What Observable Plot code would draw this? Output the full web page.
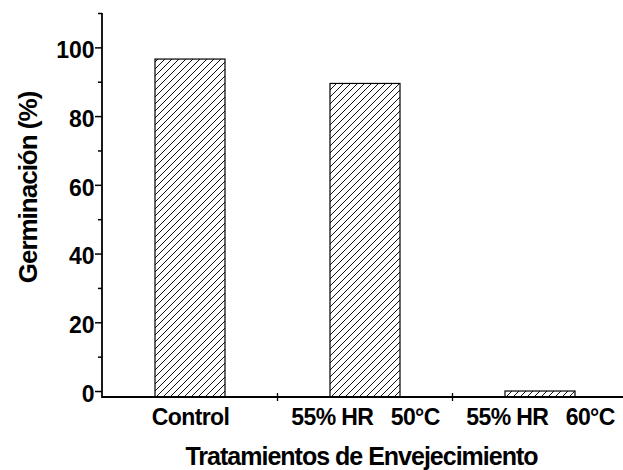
<!DOCTYPE html>
<html><head><meta charset="utf-8">
<script src="https://cdn.jsdelivr.net/npm/d3@7"></script>
<script src="https://cdn.jsdelivr.net/npm/@observablehq/plot@0.6"></script>
<style>
html,body{margin:0;padding:0;background:#fff;overflow:hidden}
svg{display:block}
</style></head><body><div id="chart"></div>
<script>
// ---- data ----
const categories = ["Control", "55% HR 50°C", "55% HR 60°C"];
const tickLabels = ["Control", "55%\u00a0HR\u00a0\u00a0\u00a050°C", "55%\u00a0HR\u00a0\u00a0\u00a060°C"];
const germination = [96.6, 89.5, 0];
const majorTicks = [0, 20, 40, 60, 80, 100];
const minorTicks = [10, 30, 50, 70, 90, 110];
const yAxisMin = -1.74, yAxisMax = 110;
const xTitle = "Tratamientos de Envejecimiento";
const yTitle = "Germinación (%)";

const data = categories.map((c, i) => ({category: c, value: germination[i]}));
const font = "Arial, 'Liberation Sans', sans-serif";

const hatchDefs = () => {
  const defs = d3.create("svg:defs");
  const p = defs.append("pattern").attr("id", "hatch")
    .attr("patternUnits", "userSpaceOnUse").attr("width", 7).attr("height", 7);
  p.append("rect").attr("width", 7).attr("height", 7).attr("fill", "white");
  p.append("path").attr("d", "M-1,1 L1,-1 M0,7 L7,0 M6,8 L8,6")
    .attr("stroke", "#111").attr("stroke-width", 1);
  return defs.node();
};

const axisLines = (index, scales, values, dims) => {
  const g = d3.create("svg:g").attr("stroke", "#000").attr("fill", "none");
  const x0 = dims.marginLeft, x1 = dims.width - dims.marginRight;
  const yb = scales.y(yAxisMin), yt = scales.y(yAxisMax);
  g.append("line").attr("x1", x0).attr("x2", x0).attr("y1", yt).attr("y2", yb + 0.9).attr("stroke-width", 1.8);
  g.append("line").attr("x1", x0).attr("x2", x1).attr("y1", yb).attr("y2", yb).attr("stroke-width", 1.8);
  const bw = typeof scales.x.bandwidth === "function" ? scales.x.bandwidth() : scales.x.bandwidth;
  for (let i = 0; i < categories.length - 1; i++) {
    const bx = (scales.x(categories[i]) + scales.x(categories[i + 1])) / 2 + bw / 2;
    g.append("line").attr("x1", bx).attr("x2", bx).attr("y1", yb - 4).attr("y2", yb + 4).attr("stroke-width", 1.3);
  }
  return g.node();
};

const chart = Plot.plot({
  width: 623, height: 470,
  marginLeft: 102, marginRight: 0, marginTop: 13, marginBottom: 73,
  style: {fontFamily: font, background: "#fff", color: "#000"},
  x: {domain: categories, range: [102, 627], paddingInner: 0.6, paddingOuter: 0.3, axis: null},
  y: {domain: [yAxisMin, yAxisMax], axis: null},
  marks: [
    hatchDefs,
    Plot.barY(data, {x: "category", y1: yAxisMin, y2: "value", fill: "url(#hatch)", stroke: "#000", strokeWidth: 1.2}),
    Plot.axisY(majorTicks, {anchor: "left", tickSize: 7, tickFormat: () => "", strokeWidth: 1.5, label: null}),
    Plot.axisY(minorTicks, {anchor: "left", tickSize: 4, tickFormat: () => "", strokeWidth: 1.5, label: null}),
    Plot.axisY(majorTicks, {anchor: "left", tickSize: 0, tickPadding: 8, dy: 3, fontSize: 23, fontWeight: "bold", fill: "#000", label: null}),
    Plot.axisX(categories, {anchor: "bottom", tickSize: 0, tickPadding: 11, tickFormat: d => tickLabels[categories.indexOf(d)], fontSize: 23, fontWeight: "bold", fill: "#000", label: null}),
    axisLines,
    Plot.text([xTitle], {text: d => d, frameAnchor: "bottom", lineAnchor: "bottom", dy: 67, dx: -1.5, fontSize: 25, fontWeight: "bold", fill: "#000"}),
    Plot.text([yTitle], {text: d => d, frameAnchor: "left", rotate: -90, textAnchor: "middle", lineAnchor: "bottom", dx: -66, dy: -18, fontSize: 26, fontWeight: "bold", fill: "#000"})
  ]
});
const sel = d3.select(chart);
sel.selectAll("text").filter(function () { return this.textContent === xTitle || this.textContent === yTitle; })
  .style("letter-spacing", "-1px");
sel.selectAll("text").filter(function () { return tickLabels.includes(this.textContent); })
  .style("letter-spacing", "-0.6px");
document.getElementById("chart").appendChild(chart);
</script>
</body></html>
